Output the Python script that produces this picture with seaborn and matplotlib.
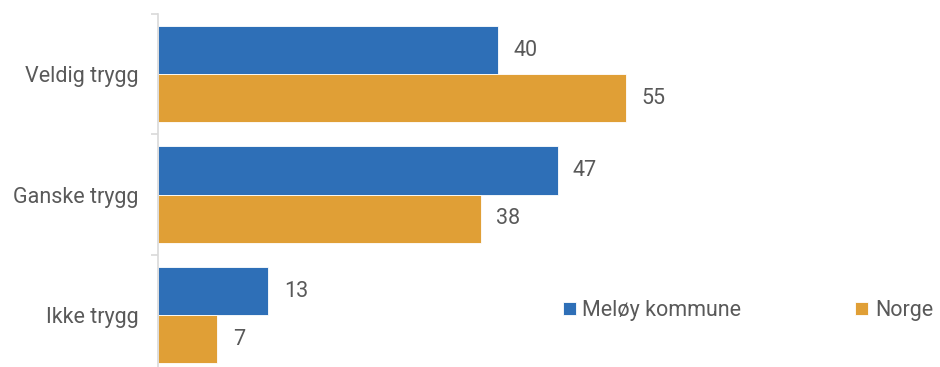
import pandas as pd
import matplotlib.pyplot as plt
import seaborn as sns

# Data
kategorier = ['Veldig trygg', 'Ganske trygg', 'Ikke trygg']
serier = ['Meløy kommune', 'Norge']
meloy = [40, 47, 13]
norge = [55, 38, 7]
farger = ['#2E6FB7', '#E09F36']

df = pd.DataFrame({
    'kategori': kategorier * 2,
    'serie': [serier[0]] * 3 + [serier[1]] * 3,
    'verdi': meloy + norge,
})

sns.set_theme(style='white')
plt.rcParams['font.family'] = ['Roboto', 'DejaVu Sans']
tekstfarge = '#595959'
fs = 15.5

fig = plt.figure(figsize=(9.4, 3.67), dpi=100)
ax = fig.add_axes([0.168, 0.0, 0.827, 0.962])

sns.barplot(data=df, y='kategori', x='verdi', hue='serie', orient='h',
            order=kategorier, hue_order=serier, palette=farger, saturation=1,
            width=0.80, edgecolor='white', linewidth=0.6, ax=ax)

for c in ax.containers:
    ax.bar_label(c, fmt='%g', padding=11, fontsize=fs, color=tekstfarge)

ax.set_xlim(0, 91.4)
ax.set_ylim(2.43, -0.5)
ax.set_xlabel('')
ax.set_ylabel('')
ax.set_xticks([])

# Akse og skillestreker
for s in ['top', 'right', 'bottom']:
    ax.spines[s].set_visible(False)
ax.spines['left'].set_color('#D9D9D9')
ax.spines['left'].set_linewidth(1.2)
ax.set_yticks([-0.5, 0.5, 1.5], minor=True)
ax.tick_params(axis='y', which='minor', left=True, length=5, width=1.2, color='#D9D9D9')
ax.tick_params(axis='y', which='major', left=False, length=0, pad=14,
               labelsize=fs, labelcolor=tekstfarge)

leg = ax.legend(loc='center left', bbox_to_anchor=(0.51, 0.16), ncol=2,
                frameon=False, fontsize=fs, handlelength=0.6, handleheight=0.6,
                handletextpad=0.3, columnspacing=5.3, borderaxespad=0)
for t in leg.get_texts():
    t.set_color(tekstfarge)

fig.savefig('out.png', dpi=100)
